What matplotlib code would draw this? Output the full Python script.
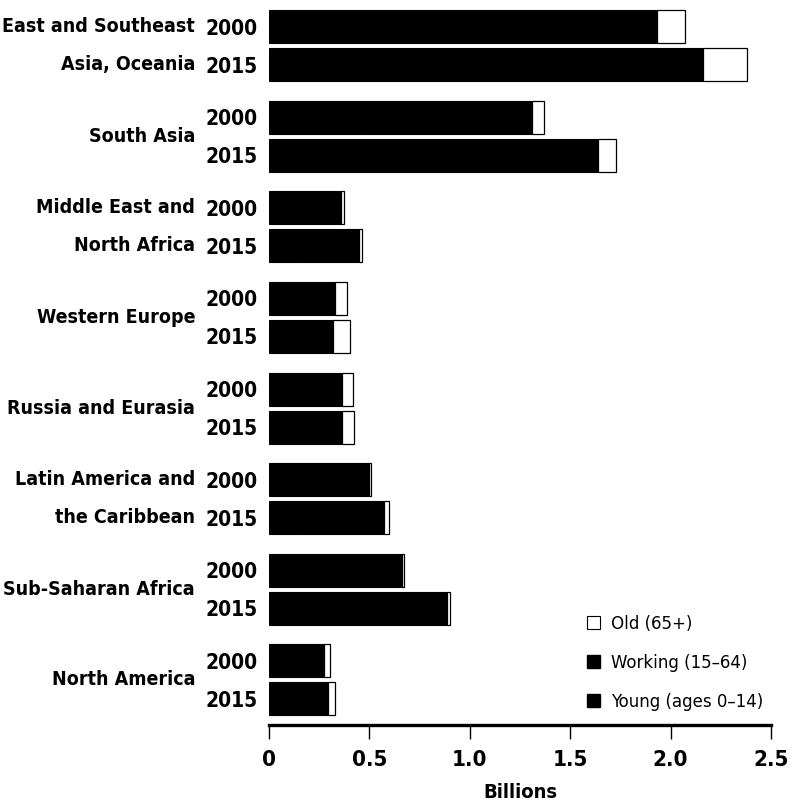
import numpy as np
import matplotlib
matplotlib.use("Agg")
import matplotlib.pyplot as plt
from matplotlib.patches import Patch
from matplotlib import font_manager as fm

regions = ["East and Southeast\nAsia, Oceania", "South Asia", "Middle East and\nNorth Africa",
           "Western Europe", "Russia and Eurasia", "Latin America and\nthe Caribbean",
           "Sub-Saharan Africa", "North America"]
years = ["2000", "2015"]

# Billions
young_2000   = [0.52, 0.46, 0.13, 0.070, 0.080, 0.17, 0.29, 0.065]
working_2000 = [1.41, 0.85, 0.23, 0.260, 0.285, 0.33, 0.37, 0.210]
old_2000     = [0.14, 0.06, 0.015, 0.060, 0.052, 0.010, 0.010, 0.030]

young_2015   = [0.45, 0.50, 0.14, 0.065, 0.070, 0.16, 0.38, 0.065]
working_2015 = [1.71, 1.14, 0.31, 0.255, 0.295, 0.415, 0.505, 0.227]
old_2015     = [0.22, 0.09, 0.015, 0.085, 0.057, 0.025, 0.015, 0.038]

xticks = [0, 0.5, 1.0, 1.5, 2.0, 2.5]
xticklabels = ["0", "0.5", "1.0", "1.5", "2.0", "2.5"]

# pick a condensed font if available
entries = fm.fontManager.ttflist
names = {f.name for f in entries}
if "Liberation Sans Narrow" in names:
    FAM = ["Liberation Sans Narrow", "DejaVu Sans"]
    STRETCH = "normal"
elif any(f.name == "DejaVu Sans" and f.stretch == "condensed" for f in entries):
    FAM = ["DejaVu Sans"]
    STRETCH = "condensed"
else:
    FAM = ["DejaVu Sans"]
    STRETCH = "normal"

def fp(size, weight="bold"):
    return fm.FontProperties(family=FAM, weight=weight, stretch=STRETCH, size=size)

fig = plt.figure(figsize=(7.9, 8.08), dpi=100)
ax = fig.add_axes([269/790, 1 - 725/808, (771-269)/790, (725-3.7)/808])

group_gap = 2.385
gidx = np.arange(len(regions))
series = [(young_2000, working_2000, old_2000), (young_2015, working_2015, old_2015)]
for k, (yv, wv, ov) in enumerate(series):
    ypos = gidx * group_gap + k
    yv = np.array(yv); wv = np.array(wv); ov = np.array(ov)
    ax.barh(ypos, yv, height=0.87, color="black", edgecolor="black", linewidth=0.8)
    ax.barh(ypos, wv, left=yv, height=0.87, color="black", edgecolor="black", linewidth=0.8)
    ax.barh(ypos, ov, left=yv + wv, height=0.87, color="white", edgecolor="black", linewidth=0.9)

ax.set_xlim(0, 2.5)
ax.set_ylim(18.38, -0.6)

# year tick labels
yt = np.concatenate([gidx * group_gap, gidx * group_gap + 1])
ax.set_yticks(yt)
ax.set_yticklabels([years[0]] * len(regions) + [years[1]] * len(regions))
for t in ax.get_yticklabels():
    t.set_fontproperties(fp(15))
ax.tick_params(axis="y", length=0, pad=8)

# region labels
for g, name in enumerate(regions):
    lines = name.split("\n")
    if len(lines) == 1:
        ax.text(-0.368, g * group_gap + 0.5, lines[0], ha="right", va="center",
                fontproperties=fp(14), clip_on=False)
    else:
        for k, ln in enumerate(lines):
            ax.text(-0.368, g * group_gap + k, ln, ha="right", va="center",
                    fontproperties=fp(14), clip_on=False)

ax.set_xticks(xticks)
ax.set_xticklabels(xticklabels)
for t in ax.get_xticklabels():
    t.set_fontproperties(fp(16))
ax.tick_params(axis="x", direction="out", length=10, width=1, pad=8)
ax.set_xlabel("Billions", fontproperties=fp(14.5), labelpad=9)

for s in ["top", "right", "left"]:
    ax.spines[s].set_visible(False)
ax.spines["bottom"].set_linewidth(2.4)

handles = [Patch(facecolor="white", edgecolor="black", linewidth=0.8),
           Patch(facecolor="black", edgecolor="black"),
           Patch(facecolor="black", edgecolor="black")]
labels = ["Old (65+)", "Working (15\u201364)", "Young (ages 0\u201314)"]
ax.legend(handles, labels, loc="lower left", bbox_to_anchor=(0.6, -0.003),
          frameon=False, handlelength=0.7, handleheight=0.7, handletextpad=0.6,
          labelspacing=1.12, prop=fp(13.3, "normal"))

fig.savefig("out.png", dpi=100)
